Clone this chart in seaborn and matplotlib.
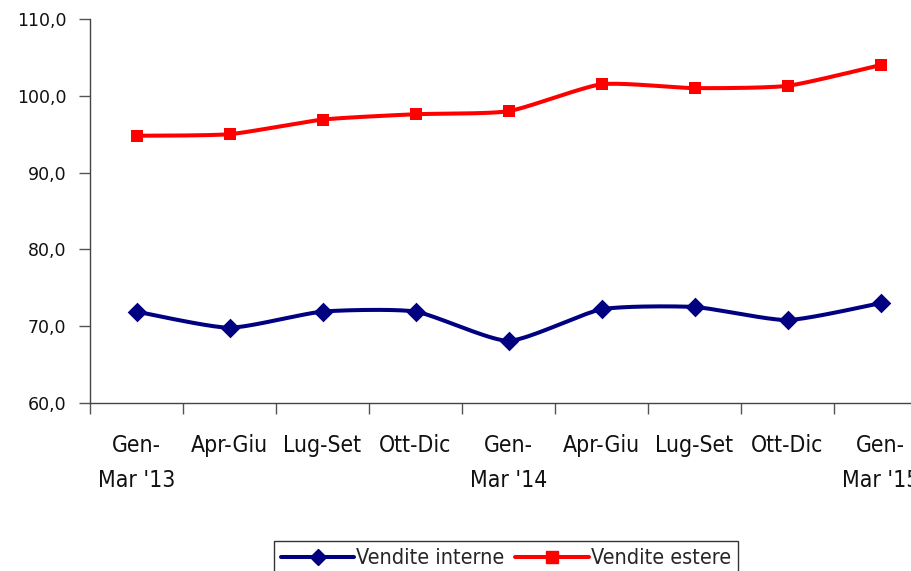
import numpy as np
import pandas as pd
import matplotlib
matplotlib.use("Agg")
import matplotlib.pyplot as plt
from matplotlib.ticker import FuncFormatter, FixedLocator
import seaborn as sns

sns.set_theme(style="white")

# ─── Data ────────────────────────────────────────────────────────────────────
quarters = ["Gen-\nMar '13", "Apr-Giu", "Lug-Set", "Ott-Dic", "Gen-\nMar '14",
            "Apr-Giu", "Lug-Set", "Ott-Dic", "Gen-\nMar '15"]
vendite_interne = [71.9, 69.8, 71.9, 71.9, 68.1, 72.2, 72.5, 70.8, 73.0]
vendite_estere = [94.8, 95.0, 96.9, 97.6, 98.0, 101.5, 101.0, 101.3, 104.0]

series_names = ["Vendite interne", "Vendite estere"]
colors = ["#000080", "#FF0000"]
markers = ["D", "s"]


def smooth(y, steps=20, k=0.6):
    """Cardinal spline through the points, close to Excel's smoothed lines."""
    y = np.asarray(y, dtype=float)
    x = np.arange(len(y), dtype=float)
    px = np.concatenate([[x[0]], x, [x[-1]]])
    py = np.concatenate([[y[0]], y, [y[-1]]])
    xs, ys = [], []
    t = np.linspace(0, 1, steps, endpoint=False)
    h00 = 2 * t ** 3 - 3 * t ** 2 + 1
    h10 = t ** 3 - 2 * t ** 2 + t
    h01 = -2 * t ** 3 + 3 * t ** 2
    h11 = t ** 3 - t ** 2
    for i in range(1, len(px) - 2):
        for p, out in ((px, xs), (py, ys)):
            m1 = k * 0.5 * (p[i + 1] - p[i - 1])
            m2 = k * 0.5 * (p[i + 2] - p[i])
            out.extend(h00 * p[i] + h10 * m1 + h01 * p[i + 1] + h11 * m2)
    xs.append(x[-1])
    ys.append(y[-1])
    return np.array(xs), np.array(ys)


fig = plt.figure(figsize=(9.11, 5.71), dpi=100)
# axes runs past the right edge of the figure, as in the original
ax = fig.add_axes([90 / 911, 1 - 403 / 571, 837 / 911, 384 / 571])

for name, vals, col, mk in zip(series_names, [vendite_interne, vendite_estere], colors, markers):
    sx, sy = smooth(vals)
    sns.lineplot(x=sx, y=sy, ax=ax, color=col, linewidth=2.9, sort=False,
                 estimator=None, legend=False)
    sns.scatterplot(x=np.arange(len(vals)), y=vals, ax=ax, color=col, marker=mk,
                    s=85 if mk == "s" else 100, edgecolor=col, linewidth=0,
                    legend=False, zorder=3)
    ax.plot([], [], color=col, linewidth=2.9, marker=mk,
            markersize=8.5, label=name)

ax.set_xlim(-0.5, len(quarters) - 0.5)
ax.set_ylim(60, 110)
ax.yaxis.set_major_locator(FixedLocator(np.arange(60, 111, 10)))
ax.yaxis.set_major_formatter(FuncFormatter(lambda v, _: f"{v:.1f}".replace(".", ",")))

ax.set_xticks(range(len(quarters)))
ax.set_xticklabels(quarters, family="DejaVu Sans", stretch="condensed",
                   fontsize=16.5, linespacing=1.7)
ax.set_xticks(np.arange(-0.5, len(quarters), 1), minor=True)
ax.tick_params(axis="x", which="major", bottom=True, length=0, pad=22, colors="#111111")
ax.tick_params(axis="x", which="minor", bottom=True, length=8, width=1,
               color="#555555", direction="out")
ax.tick_params(axis="y", left=True, length=8, width=1, color="#555555", direction="out",
               labelsize=12.5, pad=9, labelcolor="#111111")

for side in ["top", "right"]:
    ax.spines[side].set_visible(False)
for side in ["left", "bottom"]:
    ax.spines[side].set_color("#444444")
    ax.spines[side].set_linewidth(1)
ax.grid(False)
ax.set_xlabel("")
ax.set_ylabel("")

leg = fig.legend(loc="upper center", bbox_to_anchor=(506 / 911, 1 - 530 / 571),
                 ncol=2, frameon=True, fancybox=False, edgecolor="black",
                 prop={"family": "DejaVu Sans", "stretch": "condensed", "size": 15.5},
                 handlelength=3.4, handletextpad=0.1, columnspacing=0.5, borderpad=0.35)
leg.get_frame().set_linewidth(1)

fig.savefig("out.png", dpi=100)
